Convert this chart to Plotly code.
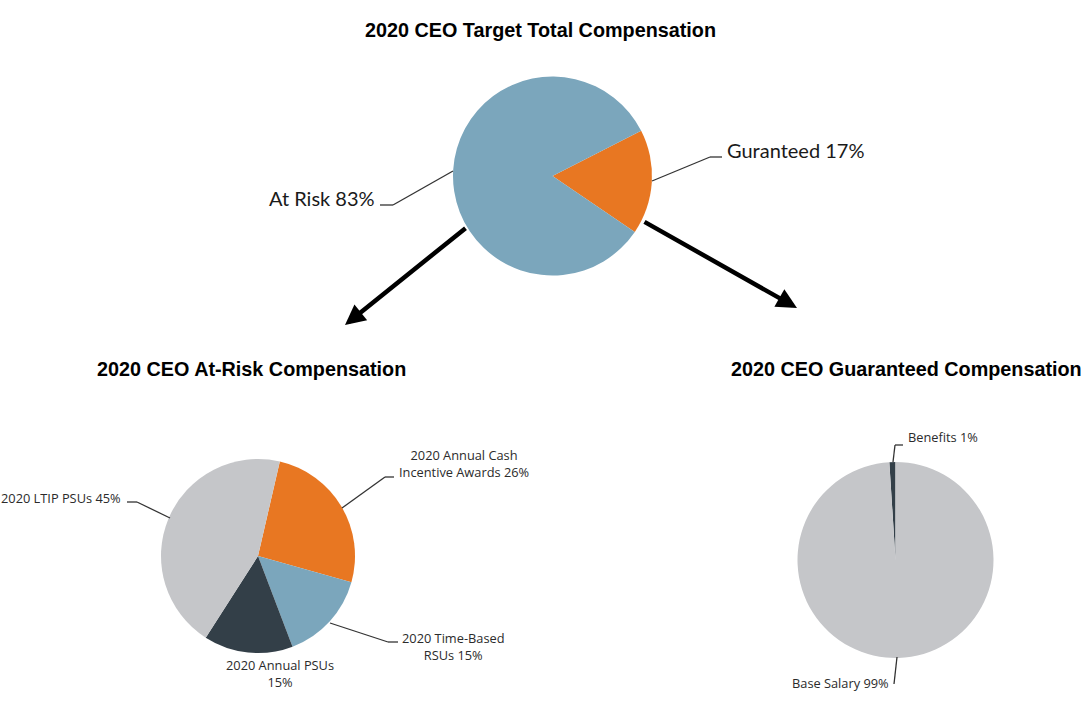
import plotly.graph_objects as go

W, H = 1085, 706

# ---- data ----
top_labels = ["Guranteed", "At Risk"]
top_values = [17, 83]
risk_labels = ["2020 Annual Cash Incentive Awards", "2020 Time-Based RSUs", "2020 Annual PSUs", "2020 LTIP PSUs"]
risk_values = [26, 15, 15, 45]
guar_labels = ["Benefits", "Base Salary"]
guar_values = [1, 99]

BLUE = "#7BA6BC"
ORANGE = "#E87722"
GRAY = "#C5C6C9"
DARK = "#333F48"


def px(x):
    return x / W


def py(y):
    return 1 - y / H


def dom(cx, cy, r):
    return dict(x=[px(cx - r), px(cx + r)], y=[py(cy + r), py(cy - r)])


fig = go.Figure()
fig.add_trace(go.Pie(labels=top_labels, values=top_values, sort=False, direction="clockwise",
                     rotation=63, textinfo="none", hoverinfo="label+percent",
                     marker=dict(colors=[ORANGE, BLUE], line=dict(width=0)),
                     domain=dom(552.5, 176, 99.5), showlegend=False))
fig.add_trace(go.Pie(labels=risk_labels, values=risk_values, sort=False, direction="clockwise",
                     rotation=13, textinfo="none", hoverinfo="label+percent",
                     marker=dict(colors=[ORANGE, BLUE, DARK, GRAY], line=dict(width=0)),
                     domain=dom(258, 556, 97), showlegend=False))
fig.add_trace(go.Pie(labels=guar_labels, values=guar_values, sort=False, direction="clockwise",
                     rotation=-3.6, textinfo="none", hoverinfo="label+percent",
                     marker=dict(colors=[DARK, GRAY], line=dict(width=0)),
                     domain=dom(895.5, 560, 98), showlegend=False))

ann = []
TF = dict(family="Liberation Sans, Arial", size=19.8, color="#000000")
ann.append(dict(x=px(540.5), y=py(30), text="<b>2020 CEO Target Total Compensation</b>", font=TF,
                xanchor="center", yanchor="middle"))
ann.append(dict(x=px(251), y=py(369), text="<b>2020 CEO At-Risk Compensation</b>", font=TF,
                xanchor="center", yanchor="middle"))
ann.append(dict(x=px(729), y=py(369), text="<b>2020 CEO Guaranteed Compensation</b>", font=TF,
                xanchor="left", yanchor="middle"))

BIG = dict(family="Lato, Noto Sans", size=20, color="#1a1a1a")
SMALL = dict(family="Open Sans, Noto Sans", size=12.8, color="#2b2b2b")
ann.append(dict(x=px(377), y=py(198), text="At Risk 83%", font=BIG, xanchor="right", yanchor="middle"))
ann.append(dict(x=px(725), y=py(150), text="Guranteed 17%", font=BIG, xanchor="left", yanchor="middle"))
ann.append(dict(x=px(123), y=py(498), text="2020 LTIP PSUs 45%", font=SMALL, xanchor="right", yanchor="middle"))
ann.append(dict(x=px(464), y=py(463), text="2020 Annual Cash<br>Incentive Awards 26%", font=SMALL,
                xanchor="center", yanchor="middle", align="center"))
ann.append(dict(x=px(453), y=py(646), text="2020 Time-Based<br>RSUs 15%", font=SMALL,
                xanchor="center", yanchor="middle", align="center"))
ann.append(dict(x=px(280), y=py(673), text="2020 Annual PSUs<br>15%", font=SMALL,
                xanchor="center", yanchor="middle", align="center"))
ann.append(dict(x=px(906), y=py(437), text="Benefits 1%", font=SMALL, xanchor="left", yanchor="middle"))
ann.append(dict(x=px(891), y=py(683), text="Base Salary 99%", font=SMALL, xanchor="right", yanchor="middle"))

# arrows
for (hx, hy, tx, ty) in [(345, 325, 467, 227), (797, 308, 643, 221)]:
    ann.append(dict(x=px(hx), y=py(hy), ax=tx - hx, ay=ty - hy, xref="paper", yref="paper",
                    showarrow=True, arrowhead=2, arrowsize=0.9, arrowwidth=4.5, arrowcolor="#000000",
                    text=""))

for a in ann:
    a.setdefault("xref", "paper")
    a.setdefault("yref", "paper")
    a.setdefault("showarrow", False)

shapes = []
leaders = [
    [(380, 205), (393, 205), (453, 171)],
    [(722, 157), (710, 157), (652, 181)],
    [(127, 502), (137, 502), (170, 518)],
    [(394, 477), (385, 477), (342, 508)],
    [(330, 623), (388, 642), (398, 642)],
    [(903, 445), (895, 445), (893, 462)],
    [(897, 657), (894, 684)],
]
for pts in leaders:
    for (x0, y0), (x1, y1) in zip(pts[:-1], pts[1:]):
        shapes.append(dict(type="line", xref="paper", yref="paper", x0=px(x0), y0=py(y0),
                           x1=px(x1), y1=py(y1), line=dict(color="#333333", width=1.3)))

fig.update_layout(width=W, height=H, margin=dict(l=0, r=0, t=0, b=0),
                  paper_bgcolor="white", plot_bgcolor="white",
                  annotations=ann, shapes=shapes)

fig.write_html("out.html", config={"displayModeBar": False},
               post_script="document.body.style.margin='0';document.body.style.overflow='hidden';")
